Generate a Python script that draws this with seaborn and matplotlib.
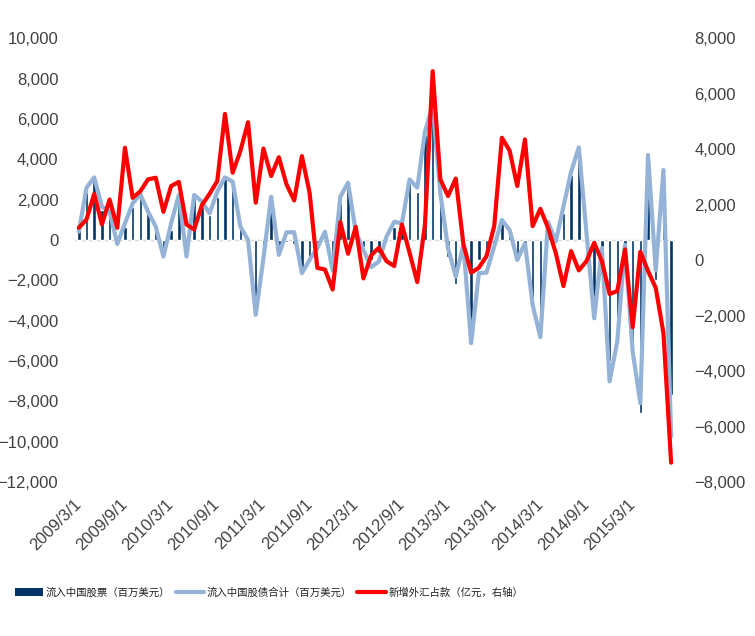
import matplotlib
matplotlib.use("Agg")
import matplotlib.pyplot as plt
import matplotlib.ticker as mticker
from matplotlib.patches import Patch
from matplotlib.lines import Line2D
import numpy as np
import pandas as pd
import seaborn as sns

# ── Data (monthly, 2009/3 – 2015/8) ───────────────────────────────────────────
months = pd.date_range("2009-03-01", periods=78, freq="MS")

equity_inflow = [
    500, 2400, 2900, 1500, 1500, -100, 660, 1650, 2230, 1320,
    660, -400, 500, 2145, -300, 2145, 1650, 1240, 2145, 3050,
    2800, 580, 100, -2800, -825, 1815, -330, -100, -200, -1650,
    -825, -500, -100, -1150, 1815, 2720, 100, -330, -990, -660,
    -100, 660, 740, 2890, 2390, 5200, 6600, 1815, -825, -2180,
    -300, -4900, -990, -900, -300, 900, 500, -825, -200, -2970,
    -4785, 800, -100, 1320, 3200, 4540, -200, -3960, -330, -6000,
    -4700, -200, -5000, -8580, 4290, -2000, 3000, -7670,
]

total_inflow = [
    410, 2590, 3100, 1650, 1400, -200, 825, 1815, 2260, 1400,
    660, -825, 825, 2230, -825, 2230, 1900, 1320, 2390, 3100,
    2890, 660, 0, -3710, -900, 2145, -740, 380, 380, -1650,
    -990, -400, 410, -1500, 2145, 2840, 410, -500, -1350, -1070,
    165, 900, 825, 3000, 2590, 5360, 6700, 2300, -410, -1815,
    -250, -5115, -1650, -1620, -330, 990, 495, -990, -165, -3220,
    -4820, 900, -80, 1650, 3380, 4590, 330, -3880, -410, -7010,
    -5030, -250, -5530, -8090, 4210, -1500, 3470, -9740,
]

fx_position = [
    1165, 1465, 2390, 1285, 2185, 1165, 4050, 2245, 2485, 2910,
    2970, 1740, 2670, 2820, 1285, 1105, 1980, 2390, 2850, 5270,
    3150, 3930, 4970, 2070, 4020, 3030, 3710, 2730, 2150, 3750,
    2430, -280, -340, -1060, 1370, 230, 1200, -660, 170, 445,
    -35, -215, 1285, 265, -790, 1285, 6810, 2910, 2310, 2940,
    565, -455, -275, 145, 1225, 4410, 3950, 2670, 4350, 1225,
    1850, 1165, 265, -935, 325, -370, -35, 625, -35, -1220,
    -1115, 385, -2415, 300, -395, -1000, -2620, -7300,
]

tick_labels = [
    "2009/3/1", "2009/9/1", "2010/3/1", "2010/9/1", "2011/3/1", "2011/9/1",
    "2012/3/1", "2012/9/1", "2013/3/1", "2013/9/1", "2014/3/1", "2014/9/1",
    "2015/3/1",
]

legend_labels = [
    "流入中国股票（百万美元）",
    "流入中国股债合计（百万美元）",
    "新增外汇占款（亿元，右轴）",
]

# ── Style ─────────────────────────────────────────────────────────────────────
NAVY = "#003366"
LIGHT_BLUE = "#95B3D7"
RED = "#FF0000"
TEXT = "#404040"

sns.set_theme(style="white")
plt.rcParams["font.family"] = ["Liberation Sans", "Noto Sans CJK SC", "DejaVu Sans"]

df = pd.DataFrame({
    "pos": np.arange(len(months)),
    "equity": equity_inflow,
    "total": total_inflow,
    "fx": fx_position,
})

fig = plt.figure(figsize=(7.55, 6.36), dpi=100)
ax = fig.add_axes([0.0993, 0.242, 0.7947, 0.698])

sns.barplot(data=df, x="pos", y="equity", color=NAVY, saturation=1,
            width=0.45, ax=ax, zorder=2)
ax.axhline(0, color="#d9d9d9", linewidth=1.0, zorder=1)
sns.lineplot(data=df, x="pos", y="total", color=LIGHT_BLUE, linewidth=3.0,
             ax=ax, zorder=3)

ax2 = ax.twinx()
sns.lineplot(data=df, x="pos", y="fx", color=RED, linewidth=3.0, ax=ax2)

ax.set_xlim(-0.5, len(months) - 0.5)
ax.set_ylim(-12000, 10000)
ax2.set_ylim(-8000, 8000)

ax.set_yticks(np.arange(-12000, 10001, 2000))
ax2.set_yticks(np.arange(-8000, 8001, 2000))
fmt = mticker.StrMethodFormatter("{x:,.0f}")
ax.yaxis.set_major_formatter(fmt)
ax2.yaxis.set_major_formatter(fmt)

ax.set_xticks(np.arange(0, len(months), 6))
ax.set_xticklabels(tick_labels, rotation=45, ha="right", va="center",
                   rotation_mode="anchor")

ax.tick_params(axis="x", length=0, pad=14, labelsize=12, labelcolor=TEXT)
ax.tick_params(axis="y", length=0, pad=12, labelsize=12, labelcolor=TEXT)
ax2.tick_params(axis="y", length=0, pad=14, labelsize=12, labelcolor=TEXT)

for a in (ax, ax2):
    a.set_xlabel("")
    a.set_ylabel("")
    for s in a.spines.values():
        s.set_visible(False)
    if a.get_legend() is not None:
        a.get_legend().remove()

handles = [
    Patch(facecolor=NAVY, edgecolor="none"),
    Line2D([0], [0], color=LIGHT_BLUE, linewidth=3.0),
    Line2D([0], [0], color=RED, linewidth=3.0),
]
fig.legend(handles, legend_labels, loc="center left",
           bbox_to_anchor=(0.014, 0.068), ncol=3, frameon=False,
           fontsize=7.5, labelcolor="#222222", handlelength=2.7,
           handleheight=0.8, handletextpad=0.3, columnspacing=0.5,
           borderaxespad=0)

fig.savefig("out.png", dpi=100)
